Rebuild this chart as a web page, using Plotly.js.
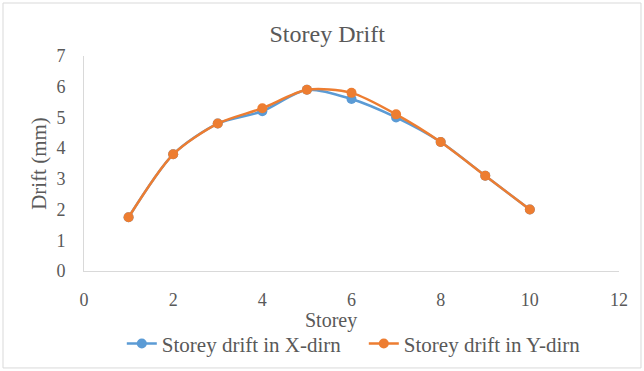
<!DOCTYPE html>
<html><head><meta charset="utf-8">
<script src="https://cdn.plot.ly/plotly-3.0.1.min.js"></script>
<style>html,body{margin:0;padding:0;background:#fff;}#chart{width:644px;height:371px;}</style>
</head><body><div id="chart"></div>
<script>
const storeys = [1, 2, 3, 4, 5, 6, 7, 8, 9, 10];
const driftX = [1.75, 3.8, 4.8, 5.2, 5.9, 5.6, 5.0, 4.2, 3.1, 2.0];
const driftY = [1.75, 3.8, 4.8, 5.3, 5.9, 5.8, 5.1, 4.2, 3.1, 2.0];
const seriesNames = ["Storey drift in X-dirn", "Storey drift in Y-dirn"];
const xTitle = "Storey";

const font = {family: "Liberation Serif, Times New Roman, serif", color: "#595959"};
const traces = [
  {x: storeys, y: driftX, name: seriesNames[0], type: "scatter", mode: "lines+markers",
   line: {color: "#5B9BD5", width: 2.5, shape: "spline", smoothing: 0.8}, marker: {color: "#5B9BD5", size: 10}},
  {x: storeys, y: driftY, name: seriesNames[1], type: "scatter", mode: "lines+markers",
   line: {color: "#ED7D31", width: 2.5, shape: "spline", smoothing: 0.8}, marker: {color: "#ED7D31", size: 10}}
];
const layout = {
  width: 644, height: 371,
  margin: {l: 84, r: 25, t: 56, b: 100, autoexpand: false},
  paper_bgcolor: "#fff", plot_bgcolor: "#fff",
  font: Object.assign({size: 18}, font),
  title: {text: "Storey Drift", x: 0.508, xanchor: "center", y: 0.91, yanchor: "middle",
          font: Object.assign({}, font, {size: 24})},
  xaxis: {range: [0, 12], dtick: 2, tick0: 0, showgrid: false, zeroline: false,
          showline: true, linecolor: "#d9d9d9", linewidth: 1, ticks: "outside", ticklen: 12,
          tickcolor: "rgba(0,0,0,0)", automargin: false,
          tickfont: Object.assign({}, font, {size: 18})},
  yaxis: {range: [0, 7], dtick: 1, tick0: 0, showgrid: false, zeroline: false,
          showline: true, linecolor: "#d9d9d9", linewidth: 1, ticks: "outside", ticklen: 14,
          tickcolor: "rgba(0,0,0,0)", automargin: false,
          tickfont: Object.assign({}, font, {size: 18}),
          title: {text: "Drift (mm)", standoff: 4, font: Object.assign({}, font, {size: 21})}},
  annotations: [{text: xTitle, xref: "paper", yref: "paper", x: 0.4617, y: -0.228,
                 xanchor: "center", yanchor: "middle", showarrow: false,
                 font: Object.assign({}, font, {size: 20})}],
  showlegend: true,
  legend: {orientation: "h", x: 0.523, xanchor: "center", y: -0.339, yanchor: "middle",
           entrywidth: 197, entrywidthmode: "pixels",
           font: Object.assign({}, font, {size: 21}), bgcolor: "rgba(0,0,0,0)"},
  shapes: [{type: "rect", xref: "paper", yref: "paper", x0: -0.1514, x1: 1.0411, y0: -0.451, y1: 1.2465,
            line: {color: "#d9d9d9", width: 1}, fillcolor: "rgba(0,0,0,0)", layer: "below"}]
};
Plotly.newPlot("chart", traces, layout, {displayModeBar: false, staticPlot: true});
</script></body></html>
